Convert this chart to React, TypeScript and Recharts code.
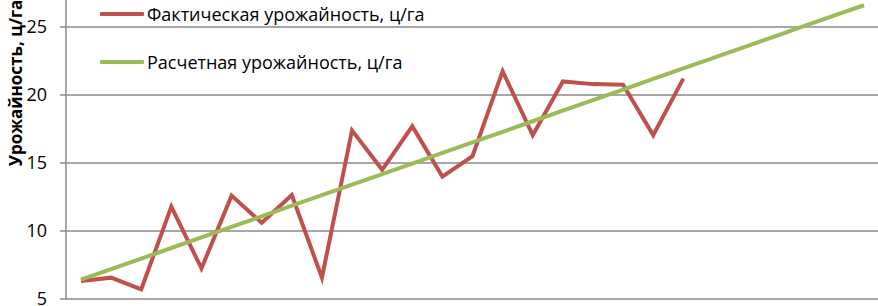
import React from "react";
import { LineChart, Line, XAxis, YAxis, CartesianGrid, Legend } from "recharts";

const periods: string[] = [
  "1", "2", "3", "4", "5", "6", "7", "8", "9", "10", "11", "12", "13", "14",
  "15", "16", "17", "18", "19", "20", "21", "22", "23", "24", "25", "26", "27",
];
const actualYield: (number | null)[] = [
  6.32, 6.57, 5.7, 11.8, 7.25, 12.6, 10.6, 12.65, 6.57, 17.4, 14.5, 17.7, 14.0,
  15.5, 21.75, 17.05, 21.0, 20.8, 20.75, 17.05, 21.2, null, null, null, null, null, null,
];
const estimatedYield: number[] = [
  6.42, 7.2, 7.97, 8.75, 9.53, 10.3, 11.08, 11.86, 12.63, 13.41, 14.19, 14.96,
  15.74, 16.52, 17.29, 18.07, 18.85, 19.62, 20.4, 21.18, 21.95, 22.73, 23.51,
  24.28, 25.06, 25.84, 26.6,
];
const yTicks: number[] = [5, 10, 15, 20, 25, 30];

const SERIES_ACTUAL = "Фактическая урожайность, ц/га";
const SERIES_EST = "Расчетная урожайность, ц/га";
const RED = "#C0504D";
const GREEN = "#9BBB59";
const GRID = "#8a8a8a";
const FONT = "'Open Sans', sans-serif";

const data = periods.map((p, i) => ({
  period: p,
  actual: actualYield[i],
  est: estimatedYield[i],
}));

const LegendContent = () => {
  const items = [
    { name: SERIES_ACTUAL, color: RED },
    { name: SERIES_EST, color: GREEN },
  ];
  return (
    <div style={{ fontFamily: FONT, fontSize: 18, color: "#000", lineHeight: "24px" }}>
      {items.map((it, i) => (
        <div
          key={it.name}
          style={{ display: "flex", alignItems: "center", height: 24, marginBottom: i === 0 ? 24 : 0 }}
        >
          <span
            style={{ display: "inline-block", width: 44, height: 4, background: it.color, marginRight: 3, borderRadius: 1 }}
          />
          <span style={{ whiteSpace: "nowrap" }}>{it.name}</span>
        </div>
      ))}
    </div>
  );
};

const YLabel = () => (
  <text
    x={15}
    y={133}
    transform="rotate(-90 15 133)"
    textAnchor="middle"
    dominantBaseline="central"
    style={{ fontFamily: FONT, fontSize: 17, fontWeight: 700, fill: "#000" }}
  >
    Урожайность, ц/га
  </text>
);

export default function App() {
  return (
    <div
      style={{
        position: "absolute",
        left: 0,
        top: 0,
        width: 878,
        height: 306,
        overflow: "hidden",
        background: "#fff",
      }}
    >
      <div style={{ position: "absolute", left: 0, top: -50 }}>
        <LineChart
          width={879}
          height={369}
          data={data}
          margin={{ top: 9, right: 0, bottom: 20, left: 0 }}
        >
          <CartesianGrid vertical={false} stroke={GRID} strokeWidth={1.5} />
          <XAxis dataKey="period" hide padding={{ left: 15, right: 15 }} />
          <YAxis
            width={66}
            domain={[5, 30]}
            ticks={yTicks}
            interval={0}
            axisLine={{ stroke: GRID, strokeWidth: 1.5 }}
            tickLine={{ stroke: GRID, strokeWidth: 1.5 }}
            tickSize={6}
            tickMargin={13}
            tick={{ fill: "#000", fontSize: 18, fontFamily: FONT }}
            label={<YLabel />}
          />
          <Legend
            layout="vertical"
            verticalAlign="middle"
            align="center"
            content={<LegendContent />}
            wrapperStyle={{ position: "absolute", left: 100, top: 52, width: 400 }}
          />
          <Line
            type="linear"
            dataKey="actual"
            name={SERIES_ACTUAL}
            stroke={RED}
            strokeWidth={4}
            dot={false}
            isAnimationActive={false}
            connectNulls={false}
          />
          <Line
            type="linear"
            dataKey="est"
            name={SERIES_EST}
            stroke={GREEN}
            strokeWidth={4}
            dot={false}
            isAnimationActive={false}
          />
        </LineChart>
      </div>
    </div>
  );
}
